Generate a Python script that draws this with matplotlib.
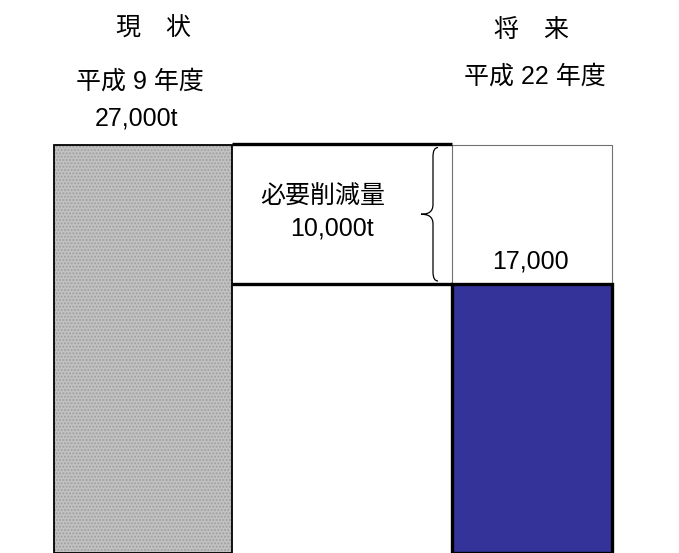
import numpy as np
import matplotlib.pyplot as plt
from matplotlib.path import Path
from matplotlib.patches import PathPatch

plt.rcParams['font.family'] = ['Liberation Sans', 'Noto Sans CJK JP']

# data
labels = ['現　状', '将　来']
years = ['平成 9 年度', '平成 22 年度']
amounts = [27000, 17000]
reduction = amounts[0] - amounts[1]

fig = plt.figure(figsize=(6.79, 5.53), dpi=100)
ax = fig.add_axes([0, 0, 1, 1])
px = 10000 / 139.5  # value units per pixel
y_top = amounts[0] + 144.5 * px
y_bot = amounts[1] - 269 * px
ax.set_xlim(0, 679)
ax.set_ylim(y_bot, y_top)
ax.axis('off')

xs = [143, 532]
ws = [178, 160]

# left bar (gray, dotted)
ax.bar(xs[0], amounts[0] - y_bot, ws[0], bottom=y_bot, color='#c2c2c2',
       hatch='.....', edgecolor='#a0a0a0', linewidth=0)
ax.bar(xs[0], amounts[0] - y_bot, ws[0], bottom=y_bot, fill=False,
       edgecolor='black', linewidth=1.3)

# right bar (blue) + white box above it
ax.bar(xs[1], reduction, ws[1], bottom=amounts[1], color='white',
       edgecolor='#707070', linewidth=0.8)
ax.bar(xs[1], amounts[1] - y_bot, ws[1], bottom=y_bot, color='#333399',
       edgecolor='black', linewidth=2.4)

# reduction box lines
x0 = xs[0] + ws[0] / 2
x1 = xs[1] - ws[1] / 2
ax.plot([x0, x1], [amounts[0], amounts[0]], color='black', lw=2.4, solid_capstyle='butt')
ax.plot([x0, x1], [amounts[1], amounts[1]], color='black', lw=2.4, solid_capstyle='butt')

# brace
ym = (amounts[0] + amounts[1]) / 2
t, b = amounts[0] - 3 * px, amounts[1] + 3 * px
verts = [(438, t), (433, t), (433, t - 9 * px),
         (433, ym + 10 * px),
         (433, ym + 2 * px), (428, ym), (421, ym),
         (428, ym), (433, ym - 2 * px), (433, ym - 10 * px),
         (433, b + 9 * px),
         (433, b), (438, b)]
codes = [Path.MOVETO, Path.CURVE3, Path.CURVE3, Path.LINETO,
         Path.CURVE4, Path.CURVE4, Path.CURVE4,
         Path.CURVE4, Path.CURVE4, Path.CURVE4,
         Path.LINETO, Path.CURVE3, Path.CURVE3]
ax.add_patch(PathPatch(Path(verts, codes), fill=False, lw=0.9, edgecolor='black'))

def yv(p):
    return amounts[0] - (p - 144.5) * px

fs = 18
ax.text(154, yv(29), labels[0], ha='center', va='center', fontsize=fs)
ax.text(532, yv(30), labels[1], ha='center', va='center', fontsize=fs)
ax.text(140, yv(82), years[0], ha='center', va='center', fontsize=fs)
ax.text(136, yv(118), f'{amounts[0]:,}t', ha='center', va='center', fontsize=fs)
ax.text(535, yv(77), years[1], ha='center', va='center', fontsize=fs)
ax.text(323, yv(197), '必要削減量', ha='center', va='center', fontsize=fs)
ax.text(332, yv(228), f'{reduction:,}t', ha='center', va='center', fontsize=fs)
ax.text(530, yv(261), f'{amounts[1]:,}', ha='center', va='center', fontsize=fs)

fig.savefig('out.png', dpi=100)
